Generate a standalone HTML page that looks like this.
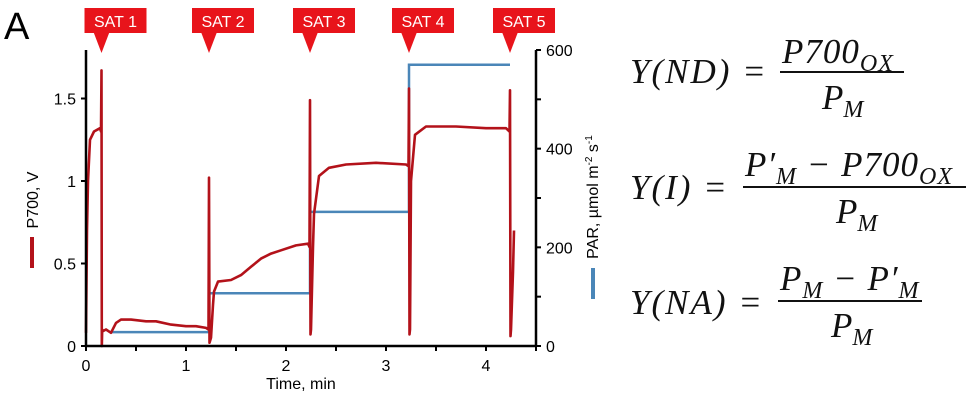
<!DOCTYPE html>
<html><head><meta charset="utf-8"><style>
body{margin:0;background:#fff;width:969px;height:408px;overflow:hidden}
svg{display:block}
.eq{font-family:"Liberation Serif",serif;font-style:italic;font-size:35px;fill:#111}
</style></head><body>
<svg id="c" width="969" height="408" xmlns="http://www.w3.org/2000/svg">
<text x="4" y="39" font-family="Liberation Sans,sans-serif" font-size="38">A</text>
<g id="plot"></g>
<g>
 <text class="eq" x="630" y="83" letter-spacing="2">Y(ND) =</text>
 <text class="eq" x="782" y="63" letter-spacing="1">P700<tspan font-size="24" dy="8">OX</tspan></text>
 <line x1="780" y1="72" x2="904" y2="72" stroke="#111" stroke-width="2"/>
 <text class="eq" x="822" y="109">P<tspan font-size="24" dy="8">M</tspan></text>

 <text class="eq" x="630" y="199" letter-spacing="2">Y(I) =</text>
 <text class="eq" x="745" y="176" letter-spacing="1">P′<tspan font-size="24" dy="8">M</tspan><tspan dy="-8"> − P700</tspan><tspan font-size="24" dy="8">OX</tspan></text>
 <line x1="743" y1="187" x2="966" y2="187" stroke="#111" stroke-width="2"/>
 <text class="eq" x="836" y="223">P<tspan font-size="24" dy="8">M</tspan></text>

 <text class="eq" x="630" y="314" letter-spacing="2">Y(NA) =</text>
 <text class="eq" x="780" y="290" letter-spacing="1">P<tspan font-size="24" dy="8">M</tspan><tspan dy="-8"> − P′</tspan><tspan font-size="24" dy="8">M</tspan></text>
 <line x1="778" y1="301" x2="922" y2="301" stroke="#111" stroke-width="2"/>
 <text class="eq" x="831" y="337">P<tspan font-size="24" dy="8">M</tspan></text>
</g>
</svg>
<script>
const xTicks=[0,1,2,3,4];
const yLeftTicks=[0,0.5,1,1.5];
const yLeftLabels=["0","0.5","1","1.5"];
const yRightTicks=[0,200,400,600];
const satTimes=[0.155,1.23,2.24,3.23,4.24];
const satLabels=["SAT 1","SAT 2","SAT 3","SAT 4","SAT 5"];
const parStart=[0.25,1.23,2.24,3.23];
const parEnd=[1.23,2.24,3.23,4.24];
const parValues=[28,107,272,570];
const p700T=[0,0.01,0.02,0.04,0.08,0.14,0.150,0.155,0.158,0.162,0.17,0.2,0.25,0.3,0.35,0.45,0.6,0.7,0.85,1.0,1.1,1.2,1.225,1.23,1.235,1.25,1.27,1.28,1.32,1.45,1.55,1.65,1.75,1.85,1.95,2.1,2.22,2.235,2.24,2.245,2.25,2.27,2.28,2.33,2.43,2.6,2.9,3.2,3.225,3.23,3.235,3.24,3.25,3.29,3.4,3.7,4.0,4.2,4.235,4.24,4.245,4.25,4.27,4.28];
const p700V=[0.08,0.7,1.0,1.25,1.3,1.32,1.3,1.67,0.0,0.1,0.09,0.1,0.08,0.14,0.16,0.16,0.15,0.15,0.13,0.12,0.12,0.11,0.1,1.02,0.02,0.05,0.25,0.33,0.39,0.4,0.43,0.48,0.53,0.56,0.58,0.61,0.62,0.6,1.49,0.07,0.1,0.6,0.8,1.03,1.08,1.1,1.11,1.1,1.09,1.56,0.07,0.1,1.0,1.28,1.33,1.33,1.32,1.32,1.3,1.55,0.06,0.1,0.45,0.7];

const X0=86,PX=100,Y0=346,PY=165,TOP=50;
const xs=t=>X0+t*PX, yl=v=>Y0-v*PY, yr=p=>Y0-p/600*(Y0-TOP);
const NS="http://www.w3.org/2000/svg";
const g=document.getElementById('plot');
function mk(tag,attrs,parent){const e=document.createElementNS(NS,tag);for(const k in attrs)e.setAttribute(k,attrs[k]);(parent||g).appendChild(e);return e;}
const F='Liberation Sans, sans-serif';
parValues.forEach((p,i)=>{
 let d='M'+xs(parStart[i])+','+yr(p)+' H'+xs(parEnd[i]);
 if(i>0) d='M'+xs(parStart[i])+','+yr(parValues[i-1])+' V'+yr(p)+' H'+xs(parEnd[i]);
 const e=mk('path',{d:d,stroke:'#4a86b8','stroke-width':2.5,fill:'none'});
 
 
});
let d='';p700T.forEach((t,i)=>{d+=(i?'L':'M')+xs(t).toFixed(1)+','+yl(p700V[i]).toFixed(1);});
const tr=mk('path',{d:d,stroke:'#b3121a','stroke-width':2.6,fill:'none','stroke-linejoin':'round'});


const ax=mk('path',{d:`M${X0},${TOP} V${Y0} H${xs(4.5)} M${xs(4.5)},${TOP} V${Y0}`,stroke:'#000','stroke-width':2.5,fill:'none'});


for(let t=0;t<=4.5;t+=0.5){mk('line',{x1:xs(t),x2:xs(t),y1:Y0,y2:Y0+5,stroke:'#000','stroke-width':2});}
xTicks.forEach(t=>{const e=mk('text',{x:xs(t),y:Y0+25,'text-anchor':'middle','font-family':F,'font-size':16});e.textContent=t;
 
 });
yLeftTicks.forEach((v,i)=>{mk('line',{x1:X0-5,x2:X0,y1:yl(v),y2:yl(v),stroke:'#000','stroke-width':2});
 const e=mk('text',{x:X0-10,y:yl(v)+6,'text-anchor':'end','font-family':F,'font-size':16});e.textContent=yLeftLabels[i];
 
 });
for(let p=0;p<=600;p+=100){mk('line',{x1:xs(4.5),x2:xs(4.5)+5,y1:yr(p),y2:yr(p),stroke:'#000','stroke-width':2});}
yRightTicks.forEach(p=>{const e=mk('text',{x:xs(4.5)+10,y:yr(p)+6,'font-family':F,'font-size':16});e.textContent=p;
 
 });
let e=mk('text',{x:(X0+xs(4.5))/2-10,y:389,'text-anchor':'middle','font-family':F,'font-size':16});e.textContent='Time, min';


e=mk('text',{transform:'translate(38,200) rotate(-90)','text-anchor':'middle','font-family':F,'font-size':16});e.textContent='P700, V';


e=mk('rect',{x:30,y:237,width:4,height:31,fill:'#b3121a'});


e=mk('text',{transform:'translate(598,197) rotate(-90)','text-anchor':'middle','font-family':F,'font-size':16});
e.innerHTML='PAR, µmol m<tspan font-size="10" dy="-6">-2</tspan><tspan dy="6"> s</tspan><tspan font-size="10" dy="-6">-1</tspan>';


e=mk('rect',{x:591,y:268,width:4,height:31,fill:'#4a86b8'});


satTimes.forEach((t,i)=>{
 const x=xs(t);
 const gg=mk('g',{});
 
 
 mk('rect',{x:x-17,y:8,width:62,height:25,fill:'#e8141b'},gg);
 mk('path',{d:`M${x-8},32 L${x+8},32 L${x},53 Z`,fill:'#e8141b'},gg);
 const tx=mk('text',{x:x+14,y:27,'text-anchor':'middle','font-family':F,'font-size':16,fill:'#fff'},gg);
 tx.textContent=satLabels[i];
});
</script>
</body></html>
